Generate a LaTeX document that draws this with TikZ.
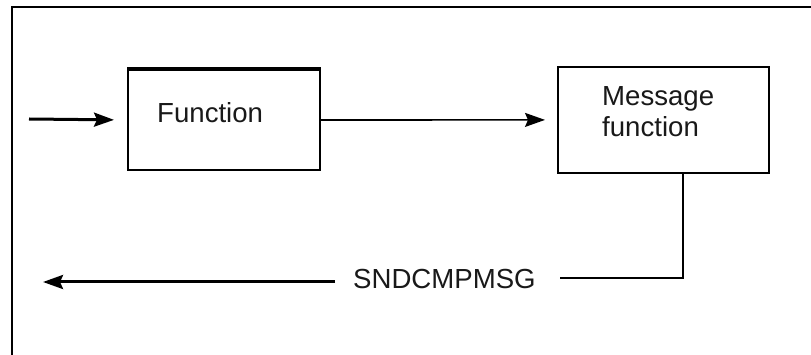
\documentclass[tikz,border=0pt]{standalone}
\usepackage{fontspec}
\setmainfont{Liberation Sans}
\usetikzlibrary{arrows.meta}

\begin{document}
\begin{tikzpicture}[x=1pt,y=-1pt,
  box/.style={draw=black,line width=2pt,minimum width=192pt,minimum height=100pt,inner sep=0pt},
  lbl/.style={font=\fontsize{27.6}{31}\selectfont,inner sep=0pt,text=black!90},
  head/.style={-{Stealth[length=20pt,width=14pt,inset=3pt]}},
  thick line/.style={line width=3pt},
  thin line/.style={line width=1.6pt}]
  \useasboundingbox (0,0) rectangle (811,355);

  % frame (only the left and top edges fall inside the page)
  \draw[line width=2pt] (12,356) -- (12,7) -- (812,7);

  % blocks
  \node[box,anchor=north west] (fn) at (127,69) {};
  \draw[line width=3pt] (fn.north west) -- (fn.north east);
  \node[box,anchor=north west,minimum width=211pt,minimum height=106pt,line width=1.8pt] (msg) at (557,66) {};

  % block texts
  \node[lbl,anchor=base west] (fntxt) at (157,123) {Function};
  \node[lbl,anchor=base west] (msgtxt1) at (602,106) {Message};
  \node[lbl,anchor=base west] (msgtxt2) at (602,137) {function};

  % incoming call
  \coordinate (in) at (29,119);
  \draw[thick line,head,shorten >=13pt] (in) -- (fn.west);

  % call to the message function
  \draw[thin line,head,shorten >=12pt] (fn.east) -- (msg.west);

  % returned message
  \coordinate (corner) at (683,278);
  \coordinate (lineend) at (560,278);
  \draw[line width=2pt] (msg.south -| corner) -- (corner) -- (lineend);
  \node[lbl,anchor=base west] (sig) at (353,288) {SNDCMPMSG};
  \coordinate (sigstart) at (335,282);
  \coordinate (out) at (43,282);
  \draw[thick line,head] (sigstart) -- (out);
\end{tikzpicture}
\end{document}
